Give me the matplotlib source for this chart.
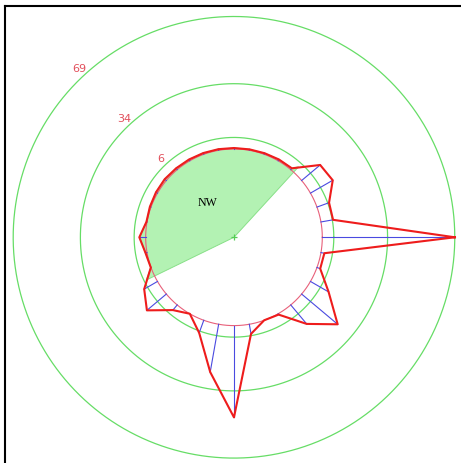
import numpy as np
import matplotlib.pyplot as plt
from matplotlib.lines import Line2D

# Data
angles_deg = np.arange(0, 360, 10)
values = [69, 6.4, 6.7, 13.4, 12.6, 0.9, 0.8, 0.6, 0.5, 0.5,
          0.6, 0.7, 0.8, 0.9, 1.1, 0.9, 0.6, 0.3, 3.3, 0.8,
          0.1, 8.0, 13.2, 3.5, 0.0, 7.0, 25.3, 47.8, 5.1, 0.0,
          0.5, 12.9, 24.5, 10.9, 1.8, 1.8]
ring_values = [6, 34, 69]
ring_labels = ["6", "34", "69"]
sector_label = "NW"
sector_start, sector_end = 47.5, 206.0

R_ORIGIN = -46
RED = '#ee1c1c'
GREEN = '#66dd66'

fig = plt.figure(figsize=(4.61, 4.64), dpi=100)
ax = fig.add_axes([0.0286, 0.0106, 0.9579, 0.9517], projection='polar')
ax.set_ylim(0, 69)
ax.set_rorigin(R_ORIGIN)
ax.axis('off')

theta = np.deg2rad(angles_deg)
vals = np.array(values)

# green sector from the centre out to the curve
t_in = angles_deg[(angles_deg > sector_start) & (angles_deg < sector_end)]
ang_ext = np.append(angles_deg, 360)
val_ext = np.append(vals, vals[0])
sec_t = np.concatenate([[sector_start], t_in, [sector_end]])
sec_r = np.interp(sec_t, ang_ext, val_ext)
sec_t = np.deg2rad(np.concatenate([[sector_start], sec_t, [sector_end]]))
sec_r = np.concatenate([[R_ORIGIN], sec_r, [R_ORIGIN]])
ax.fill(sec_t, sec_r, facecolor='#b3f2b3', edgecolor='#88e088', lw=0.7,
        clip_on=False, zorder=1)

# range rings
circ = np.linspace(0, 2 * np.pi, 400)
for v, lab in zip(ring_values, ring_labels):
    ax.plot(circ, np.full_like(circ, v), color=GREEN, lw=0.9, clip_on=False, zorder=2)
    ax.text(np.deg2rad(132.5), v + 4.3, lab, color='#e2505c', fontsize=8,
            ha='center', va='center')

# base circle
ax.plot(circ, np.zeros_like(circ), color='#e8607a', lw=0.8, clip_on=False, zorder=2)

# spokes
for t, v in zip(theta, vals):
    if v > 0:
        ax.plot([t, t], [0, v], color='#4a4ae0', lw=0.8, clip_on=False, zorder=3)

# outline
ax.plot(np.append(theta, theta[0]), np.append(vals, vals[0]), color=RED, lw=1.5,
        clip_on=False, zorder=4)

ax.plot(0, R_ORIGIN, '+', color='#55cc55', ms=4, mew=0.9, clip_on=False, zorder=5)
ax.text(np.deg2rad((sector_start + sector_end) / 2), R_ORIGIN / 2, sector_label,
        family='Liberation Serif', fontsize=8.6, ha='center', va='center')

# frame on left and top
fig.add_artist(Line2D([0.0108, 0.0108], [0, 0.9843], color='black', lw=1.5))
fig.add_artist(Line2D([0.0108, 1.0], [0.9843, 0.9843], color='black', lw=1.5))

plt.savefig('out.png', dpi=100)
